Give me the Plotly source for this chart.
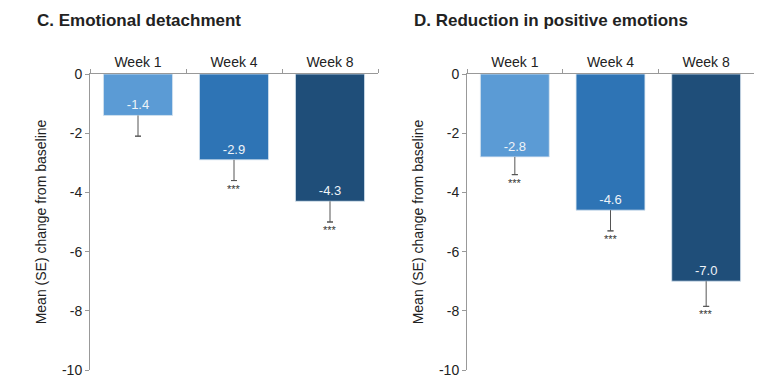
import plotly.graph_objects as go

categories = ["Week 1", "Week 4", "Week 8"]
panel_titles = ["C. Emotional detachment", "D. Reduction in positive emotions"]
detach_mean = [-1.4, -2.9, -4.3]
detach_se = [0.7, 0.7, 0.7]
detach_stars = ["", "***", "***"]
positive_mean = [-2.8, -4.6, -7.0]
positive_se = [0.6, 0.7, 0.85]
positive_stars = ["***", "***", "***"]
bar_colors = ["#5b9bd5", "#2e74b5", "#1f4e79"]
y_ticks = [0, -2, -4, -6, -8, -10]
y_title = "Mean (SE) change from baseline"

W, H = 775, 387
OFF = 8  # page body margin offset
FONT = "Liberation Sans, Arial, sans-serif"
ERR = "#555555"
fig = go.Figure()

panels = [
    (detach_mean, detach_se, detach_stars, (90, 378), "x", "y"),
    (positive_mean, positive_se, positive_stars, (467, 754), "x2", "y2"),
]
ytop, ybot = 74, 370

for i, (mean, se, stars, (x0, x1), xa, ya) in enumerate(panels):
    fig.add_trace(go.Bar(
        x=categories, y=mean, xaxis=xa, yaxis=ya,
        marker=dict(color=bar_colors, line=dict(color="#d8e4f0", width=0.8)),
        width=0.72,
        text=[f"{v:.1f}" for v in mean], textposition="inside",
        insidetextanchor="end", textangle=0,
        textfont=dict(color="#eef3f8", size=13, family=FONT),
        showlegend=False, hoverinfo="skip",
    ))
    # error stems (one-sided, downward)
    sx, sy = [], []
    for c, m, s in zip(categories, mean, se):
        sx += [c, c, None]
        sy += [m, m - s, None]
    fig.add_trace(go.Scatter(x=sx, y=sy, xaxis=xa, yaxis=ya, mode="lines",
                             line=dict(color=ERR, width=1), showlegend=False,
                             hoverinfo="skip"))
    # caps at the tail only
    fig.add_trace(go.Scatter(
        x=categories, y=[m - s for m, s in zip(mean, se)], xaxis=xa, yaxis=ya,
        mode="markers", marker=dict(size=1, opacity=0),
        error_y=dict(type="data", array=[0] * 3, arrayminus=[0] * 3,
                     color=ERR, thickness=1, width=3),
        showlegend=False, hoverinfo="skip"))
    for c, m, s, st in zip(categories, mean, se, stars):
        if st:
            fig.add_annotation(x=c, y=m - s, xref=xa, yref=ya, text=st,
                               showarrow=False, yanchor="top", yshift=0,
                               font=dict(color="#333333", size=11, family=FONT))
    sfx = "" if i == 0 else "2"
    xd = [(x0 - OFF) / W, (x1 - OFF) / W]
    yd = [1 - (ybot - OFF) / H, 1 - (ytop - OFF) / H]
    fig.update_layout(**{
        f"xaxis{sfx}": dict(domain=xd, anchor=ya, side="top", type="category",
                            categoryorder="array", categoryarray=categories,
                            showline=True, linecolor="#999999", linewidth=1,
                            ticks="outside", tickson="boundaries", ticklen=4,
                            tickcolor="#999999", showgrid=False, zeroline=False,
                            tickfont=dict(size=14, color="#222222", family=FONT),
                            automargin=False, fixedrange=True),
        f"yaxis{sfx}": dict(domain=yd, anchor=xa, range=[-10, 0],
                            tickvals=y_ticks, ticktext=[str(v) for v in y_ticks],
                            showline=True, linecolor="#999999", linewidth=1,
                            ticks="outside", ticklen=4, tickcolor="#999999",
                            showgrid=False, zeroline=False,
                            tickfont=dict(size=14, color="#222222", family=FONT),
                            title=dict(text=y_title, standoff=12,
                                       font=dict(size=14, color="#222222", family=FONT)),
                            automargin=False, fixedrange=True),
    })

title_x = [35, 412]
for t, tx in zip(panel_titles, title_x):
    fig.add_annotation(text=f"<b>{t}</b>", xref="paper", yref="paper",
                       x=(tx - OFF) / W, y=1 - (20 - OFF) / H, xanchor="left",
                       yanchor="middle", showarrow=False,
                       font=dict(size=17, color="#222222", family=FONT))

fig.update_layout(width=W, height=H, margin=dict(l=0, r=0, t=0, b=0, autoexpand=False),
                  plot_bgcolor="white", paper_bgcolor="white", bargap=0.28)
fig.write_html("out.html")
